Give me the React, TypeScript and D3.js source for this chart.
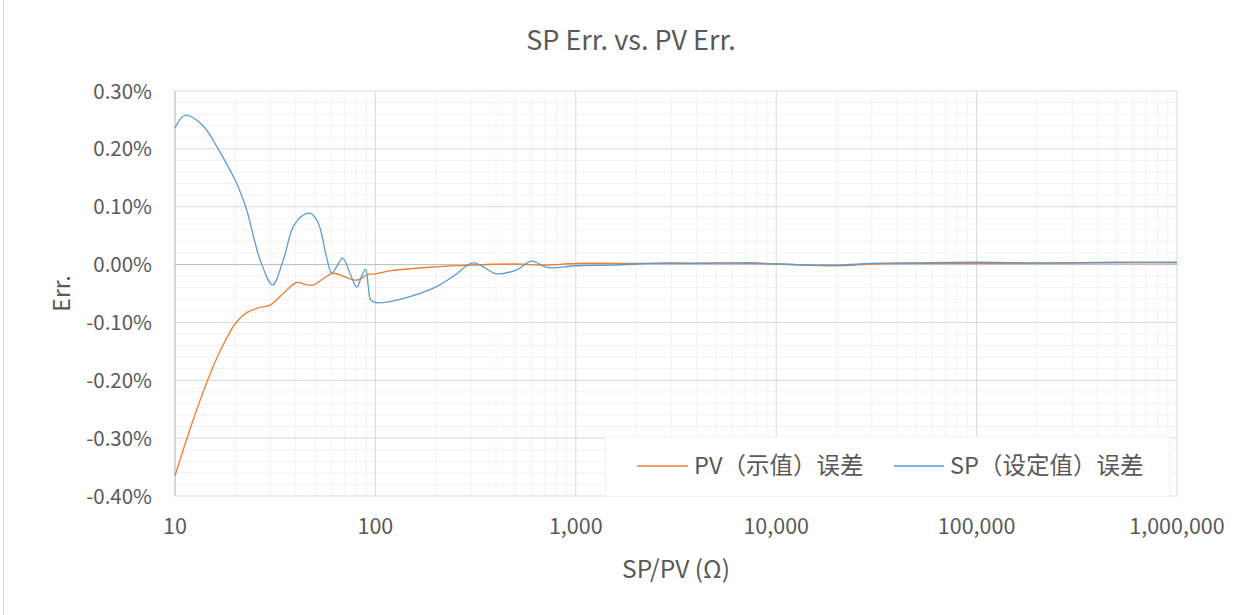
import React from 'react';
import * as d3 from 'd3';

// ---- data (values in percent) ----
const xTickValues = [10, 100, 1000, 10000, 100000, 1000000];
const yTickValues = [0.3, 0.2, 0.1, 0.0, -0.1, -0.2, -0.3, -0.4];

const pvX = [10, 12.3, 15.5, 18.1, 20.1, 22.8, 26.6, 29.8, 34.7, 40.4, 45.4, 49.4, 55, 61.6, 69, 79, 84, 90, 100, 120, 200, 300, 500, 700, 1000, 2000, 3000, 5000, 10000, 20000, 30000, 50000, 100000, 200000, 500000, 1000000];
const pvY = [-0.365, -0.269, -0.176, -0.127, -0.101, -0.083, -0.074, -0.07, -0.05, -0.031, -0.035, -0.035, -0.024, -0.015, -0.02, -0.027, -0.025, -0.018, -0.016, -0.0105, -0.004, -0.001, 0.001, -0.001, 0.002, 0.002, 0.002, 0.003, 0.001, -0.002, 0.001, 0.002, 0.002, 0.002, 0.003, 0.003];

const spX = [10, 11.2, 13.8, 16.4, 20.3, 22.8, 26.6, 30.7, 34.7, 38.9, 43.7, 47.5, 51.9, 57, 60.5, 64, 68.7, 74.6, 80.7, 85.2, 89.4, 92.2, 94.8, 101.5, 118, 150, 202, 250, 308, 403, 507, 603, 716, 1000, 1500, 2000, 3000, 4000, 6000, 8000, 10000, 20000, 30000, 50000, 100000, 200000, 500000, 1000000];
const spY = [0.236, 0.258, 0.24, 0.2, 0.1405, 0.094, 0.008, -0.035, 0.008, 0.0655, 0.0857, 0.0886, 0.0714, 0.0137, -0.015, -0.004, 0.011, -0.015, -0.039, -0.021, -0.008, -0.038, -0.061, -0.066, -0.064, -0.055, -0.038, -0.018, 0.003, -0.016, -0.009, 0.006, -0.005, -0.002, -0.001, 0.001, 0.003, 0.002, 0.003, 0.003, 0.001, -0.001, 0.002, 0.003, 0.004, 0.003, 0.004, 0.004];

const seriesNames = ['PV（示值）误差', 'SP（设定值）误差'];
const seriesColors = ['#ED7D31', '#5B9BD5'];

const W = 1252;
const H = 615;
const L = 175, R = 1177, T = 91, B = 496;
const FONT = "'Noto Sans CJK SC', 'Noto Sans', sans-serif";
const TXT = '#595959';

export default function App() {
  const x = d3.scaleLog().domain([10, 1000000]).range([L, R]);
  const y = d3.scaleLinear().domain([-0.4, 0.3]).range([B, T]);

  const minorX: number[] = [];
  for (let e = 1; e < 6; e++) {
    for (let k = 2; k <= 9; k++) minorX.push(k * Math.pow(10, e));
  }
  const minorY: number[] = [];
  for (let i = -20; i <= 15; i++) {
    if (i % 5 !== 0) minorY.push(i * 0.02);
  }

  const line = d3
    .line<[number, number]>()
    .x((d) => x(d[0]))
    .y((d) => y(d[1]))
    .curve(d3.curveCatmullRom.alpha(0.5));

  const pvPath = line(pvX.map((v, i) => [v, pvY[i]] as [number, number])) || '';
  const spPath = line(spX.map((v, i) => [v, spY[i]] as [number, number])) || '';

  const fmtX = d3.format(',');
  const fmtY = (v: number) => v.toFixed(2) + '%';

  return (
    <svg
      width={W}
      height={H}
      style={{ position: 'absolute', left: 0, top: 0, background: '#fff' }}
      fontFamily={FONT}
    >
      <rect x={0} y={0} width={W} height={H} fill="#fff" />
      <line x1={3.5} y1={0} x2={3.5} y2={H} stroke="#d9d9d9" strokeWidth={1} />

      <text x={631} y={50} textAnchor="middle" fontSize={27} fill={TXT}>
        SP Err. vs. PV Err.
      </text>

      {/* minor grid */}
      {minorX.map((v) => (
        <line key={'mx' + v} x1={x(v)} x2={x(v)} y1={T} y2={B} stroke="#f2f2f2" strokeWidth={1} />
      ))}
      {minorY.map((v) => (
        <line key={'my' + v} x1={L} x2={R} y1={y(v)} y2={y(v)} stroke="#f2f2f2" strokeWidth={1} />
      ))}
      {/* major grid */}
      {xTickValues.map((v) => (
        <line key={'gx' + v} x1={x(v)} x2={x(v)} y1={T} y2={B} stroke="#d9d9d9" strokeWidth={1} />
      ))}
      {yTickValues.map((v) => (
        <line key={'gy' + v} x1={L} x2={R} y1={y(v)} y2={y(v)} stroke="#d9d9d9" strokeWidth={1} />
      ))}
      <line x1={L} x2={R} y1={y(0)} y2={y(0)} stroke="#bfbfbf" strokeWidth={1} />
      <line x1={L} x2={L} y1={T} y2={B} stroke="#bfbfbf" strokeWidth={1} />

      {/* y tick labels */}
      {yTickValues.map((v) => (
        <text key={'ty' + v} x={152} y={y(v) + 7.5} textAnchor="end" fontSize={20.5} fill={TXT}>
          {fmtY(v)}
        </text>
      ))}
      {/* x tick labels */}
      {xTickValues.map((v) => (
        <text key={'tx' + v} x={x(v)} y={534} textAnchor="middle" fontSize={21.5} fill={TXT}>
          {fmtX(v)}
        </text>
      ))}

      {/* axis titles */}
      <text x={(L + R) / 2} y={578} textAnchor="middle" fontSize={24.5} fill={TXT}>
        SP/PV (Ω)
      </text>
      <text
        transform={`translate(70, ${(T + B) / 2}) rotate(-90)`}
        textAnchor="middle"
        fontSize={23}
        fill={TXT}
      >
        Err.
      </text>

      {/* series */}
      <path d={pvPath} fill="none" stroke={seriesColors[0]} strokeWidth={1.3} />
      <path d={spPath} fill="none" stroke={seriesColors[1]} strokeWidth={1.3} />

      {/* legend */}
      <rect x={605.5} y={436.5} width={564} height={60} fill="#fff" stroke="#f2f2f2" />
      <line x1={637} x2={688} y1={466} y2={466} stroke={seriesColors[0]} strokeWidth={1.3} />
      <text x={694} y={474} fontSize={23.5} fill={TXT}>{seriesNames[0]}</text>
      <line x1={894} x2={944} y1={466} y2={466} stroke={seriesColors[1]} strokeWidth={1.3} />
      <text x={950} y={474} fontSize={23.5} fill={TXT}>{seriesNames[1]}</text>
    </svg>
  );
}
